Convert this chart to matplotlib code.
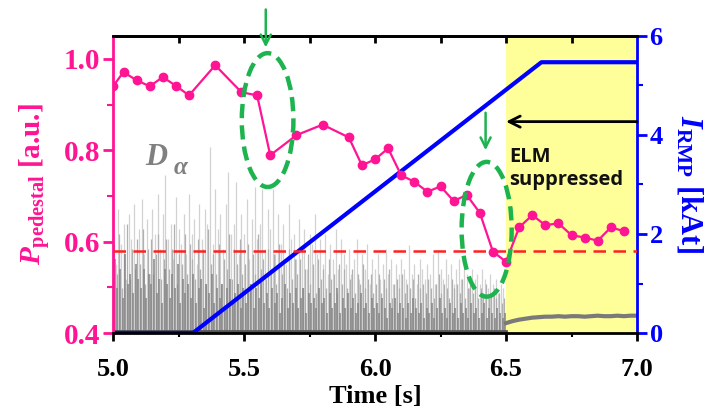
import matplotlib
matplotlib.use("Agg")
import matplotlib.pyplot as plt
from matplotlib.patches import Ellipse
from matplotlib.ticker import MultipleLocator

plt.rcParams['mathtext.fontset'] = 'custom'
plt.rcParams['mathtext.rm'] = 'Liberation Serif:bold'
plt.rcParams['mathtext.it'] = 'Liberation Serif:bold:italic'
plt.rcParams['mathtext.bf'] = 'Liberation Serif:bold'

# Pedestal pressure (normalised)
ped_t = [5.00, 5.04, 5.09, 5.14, 5.19, 5.24, 5.29, 5.39, 5.49, 5.55, 5.60,
         5.70, 5.80, 5.90, 5.95, 6.00, 6.05, 6.10, 6.15, 6.20, 6.25, 6.30,
         6.35, 6.40, 6.45, 6.50, 6.55, 6.60, 6.65, 6.70, 6.75, 6.80, 6.85,
         6.90, 6.95]
ped_v = [0.940, 0.971, 0.953, 0.940, 0.960, 0.941, 0.920, 0.986, 0.927, 0.920, 0.789,
         0.833, 0.856, 0.828, 0.767, 0.780, 0.804, 0.745, 0.731, 0.709, 0.721, 0.689,
         0.702, 0.663, 0.578, 0.556, 0.631, 0.658, 0.636, 0.640, 0.614, 0.609, 0.602,
         0.631, 0.623]
ped_threshold = 0.58

# RMP coil current waveform [kAt]
rmp_t = [5.00, 5.305, 6.635, 7.00]
rmp_i = [0.0, 0.0, 5.47, 5.47]

# D-alpha emission (arb., plotted on the kAt scale), ELMy phase, 10 ms bins
da_t0 = 5.0
da_dt = 0.01
da_peaks = [
    2.3, 1.4, 2.5, 1.8, 2.2, 1.1, 2.4, 1.9, 2.6, 1.5,
    2.1, 2.7, 1.6, 2.3, 1.2, 2.5, 2.0, 2.8, 1.7, 2.4,
    3.2, 1.9, 2.2, 1.5, 2.75, 2.1, 1.8, 2.4, 1.6, 2.8,
    2.0, 2.3, 1.4, 2.6, 1.9, 2.5, 2.2, 3.76, 1.8, 2.9,
    2.1, 2.4, 1.7, 2.6, 3.25, 2.0, 2.2, 3.05, 1.6, 2.4,
    2.0, 2.7, 1.5, 2.3, 2.95, 1.9, 2.2, 2.9, 1.7, 2.5,
    2.1, 2.9, 1.6, 2.4, 1.8, 2.2, 1.4, 2.6, 1.9, 2.0,
    1.5, 2.3, 1.7, 2.1, 1.3, 2.0, 1.8, 2.4, 1.6, 1.9,
    1.4, 2.0, 1.2, 1.8, 1.5, 2.1, 1.3, 1.9, 1.6, 1.4,
    1.7, 1.2, 1.5, 1.9, 1.1, 1.6, 1.3, 1.8, 1.0, 1.5,
    1.3, 1.6, 1.1, 1.4, 1.7, 1.2, 1.5, 1.0, 1.4, 1.2,
    1.5, 1.3, 1.1, 1.78, 1.2, 1.4, 1.0, 1.5, 1.3, 1.1,
    1.4, 1.2, 1.6, 1.0, 1.68, 1.3, 1.1, 1.5, 1.2, 1.4,
    1.0, 1.3, 1.5, 1.1, 1.4, 1.2, 0.9, 1.3, 1.1, 1.2,
    1.0, 1.3, 1.1, 0.9, 1.2, 1.0, 1.1, 0.8, 1.0, 0.9,
]
da_mid = [
    1.8, 1.2, 2.0, 0.9, 1.6, 2.2, 1.1, 1.7, 1.3, 1.9,
    1.4, 2.1, 1.0, 1.7, 1.9, 1.2, 1.6, 2.0, 1.1, 1.5,
    1.9, 1.3, 1.7, 2.2, 1.0, 1.6, 1.4, 2.0, 1.2, 1.8,
    1.5, 1.1, 1.9, 1.3, 1.7, 1.0, 2.1, 1.4, 1.6, 1.2,
    1.8, 1.0, 1.5, 1.3, 2.0, 1.1, 1.7, 1.4, 1.9, 1.2,
    1.4, 1.8, 1.0, 1.6, 1.2, 2.0, 1.3, 1.5, 1.1, 1.7,
    1.3, 1.6, 1.0, 1.8, 1.2, 1.4, 0.9, 1.7, 1.1, 1.5,
    1.2, 1.5, 0.9, 1.3, 1.6, 1.0, 1.4, 0.8, 1.5, 1.1,
    1.3, 0.9, 1.5, 1.1, 1.2, 0.8, 1.4, 1.0, 1.3, 0.9,
    1.1, 1.3, 0.8, 1.2, 1.0, 1.4, 0.9, 1.1, 1.2, 0.8,
    1.0, 1.2, 0.8, 1.1, 0.9, 1.3, 0.7, 1.0, 1.1, 0.9,
    1.2, 0.8, 1.0, 0.9, 1.1, 0.7, 1.2, 0.9, 1.0, 0.8,
    1.1, 0.9, 0.7, 1.0, 1.2, 0.8, 1.0, 0.9, 0.7, 1.1,
    0.9, 1.0, 0.8, 1.1, 0.7, 0.9, 1.0, 0.8, 0.9, 0.7,
    0.9, 0.8, 1.0, 0.7, 0.8, 0.9, 0.7, 0.8, 0.6, 0.7,
]
da_base = [
    1.5, 0.9, 1.3, 0.7, 1.6, 1.0, 1.2, 0.8, 1.4, 1.1,
    0.9, 1.3, 0.7, 1.2, 1.0, 1.5, 0.8, 1.1, 0.6, 1.3,
    1.0, 0.7, 1.2, 0.9, 1.4, 0.6, 1.1, 0.8, 1.0, 0.7,
    1.2, 0.6, 0.9, 1.1, 0.5, 1.0, 0.8, 1.2, 0.6, 0.9,
    0.7, 1.0, 0.5, 0.9, 1.1, 0.6, 0.8, 1.0, 0.5, 0.9,
    0.6, 0.8, 1.0, 0.5, 0.9, 0.7, 1.1, 0.6, 0.8, 0.5,
    0.9, 0.6, 0.8, 0.4, 0.7, 1.0, 0.5, 0.8, 0.6, 0.9,
    0.5, 0.7, 0.9, 0.4, 0.8, 0.6, 0.7, 0.5, 0.9, 0.6,
    0.7, 0.4, 0.8, 0.5, 0.6, 0.9, 0.4, 0.7, 0.5, 0.8,
    0.5, 0.7, 0.4, 0.6, 0.8, 0.5, 0.6, 0.4, 0.7, 0.5,
    0.6, 0.4, 0.7, 0.5, 0.3, 0.6, 0.5, 0.7, 0.4, 0.6,
    0.5, 0.3, 0.6, 0.4, 0.7, 0.5, 0.4, 0.6, 0.3, 0.5,
    0.4, 0.6, 0.3, 0.5, 0.7, 0.4, 0.5, 0.3, 0.6, 0.4,
    0.5, 0.3, 0.6, 0.4, 0.5, 0.3, 0.6, 0.4, 0.5, 0.3,
    0.4, 0.6, 0.3, 0.5, 0.4, 0.3, 0.5, 0.4, 0.3, 0.4,
]
# D-alpha after ELM suppression
da_sup_t = [6.500, 6.525, 6.550, 6.575, 6.600, 6.625, 6.650, 6.675, 6.700, 6.725,
            6.750, 6.775, 6.800, 6.825, 6.850, 6.875, 6.900, 6.925, 6.950, 6.975, 7.000]
da_sup_v = [0.20, 0.24, 0.27, 0.29, 0.31, 0.32, 0.33, 0.33, 0.34, 0.33,
            0.34, 0.34, 0.33, 0.34, 0.35, 0.34, 0.34, 0.35, 0.34, 0.35, 0.35]

suppressed_from = 6.5

PINK = '#ff1493'
BLUE = '#0000ff'
GREEN = '#1db34f'
SERIF = 'Liberation Serif'

fig = plt.figure(figsize=(7.14, 4.09), dpi=100)
ax = fig.add_axes([0.1583, 0.1858, 0.7339, 0.7262])
ax2 = ax.twinx()
ax.set_zorder(ax2.get_zorder() + 1)
ax.patch.set_visible(False)

# Right axis: RMP current and D-alpha
ax2.axvspan(suppressed_from, 7.0, color='#ffff99', zorder=0, lw=0)
n = len(da_peaks)
t_peak = [da_t0 + da_dt * k for k in range(n)]
t_mid = [da_t0 + da_dt * (k + 0.33) for k in range(n)]
t_base = [da_t0 + da_dt * (k + 0.66) for k in range(n)]
ax2.vlines(t_peak, 0, da_peaks, color='#d2d2d2', lw=0.9, zorder=1)
ax2.vlines(t_mid, 0, da_mid, color='#b0b0b0', lw=0.9, zorder=1.5)
ax2.vlines(t_base, 0, da_base, color='#858585', lw=1.1, zorder=2)
ax2.plot([da_t0, suppressed_from], [0.04, 0.04], color='#555555', lw=2, zorder=2)
ax2.plot(da_sup_t, da_sup_v, color='#7a7a7a', lw=3, zorder=2)
ax2.plot(rmp_t, rmp_i, color=BLUE, lw=3, zorder=3)
ax2.set_ylim(0, 6)
ax2.set_yticks([0, 2, 4, 6])
ax2.yaxis.set_minor_locator(MultipleLocator(1))

# Left axis: pedestal pressure
ax.plot(ped_t, ped_v, color=PINK, lw=1.6, marker='o', ms=6, zorder=4)
ax.axhline(ped_threshold, color='#ff2020', lw=1.8, ls=(0, (5, 3)), zorder=3)
ax.set_xlim(5.0, 7.0)
ax.set_ylim(0.4, 1.05)
ax.set_yticks([0.4, 0.6, 0.8, 1.0])
ax.yaxis.set_minor_locator(MultipleLocator(0.1))
ax.set_xticks([5.0, 5.5, 6.0, 6.5, 7.0])
ax.xaxis.set_minor_locator(MultipleLocator(0.25))

# Highlight the pressure drops
for cx, cy, w, h in [(5.590, 0.866, 0.197, 0.293), (6.426, 0.627, 0.191, 0.295)]:
    ax.add_patch(Ellipse((cx, cy), w, h, fill=False, ec=GREEN, lw=3.2,
                         ls=(0, (3.2, 1.6)), zorder=5))
ax.annotate('', xy=(5.583, 1.025), xytext=(5.583, 1.108),
            arrowprops=dict(arrowstyle='->', color=GREEN, lw=1.8,
                            mutation_scale=18, shrinkA=0, shrinkB=0),
            annotation_clip=False, zorder=6)
ax.annotate('', xy=(6.422, 0.80), xytext=(6.422, 0.882),
            arrowprops=dict(arrowstyle='->', color=GREEN, lw=1.8,
                            mutation_scale=18, shrinkA=0, shrinkB=0),
            annotation_clip=False, zorder=6)

ax2.annotate('', xy=(6.5, 4.27), xytext=(7.0, 4.27),
             arrowprops=dict(arrowstyle='->', color='black', lw=2,
                             mutation_scale=20, shrinkA=0, shrinkB=0))
ax2.text(6.513, 3.33, 'ELM\nsuppressed', family='Open Sans', weight='bold',
         fontsize=14.5, color='#111111', ha='left', va='center', linespacing=1.2)

ax.text(5.164, 0.785, 'D', family=SERIF, style='italic', weight='bold',
        fontsize=22, color='#808080', ha='center', va='center')
ax.text(5.257, 0.762, 'α', family=SERIF, style='italic', weight='bold',
        fontsize=18, color='#808080', ha='center', va='center')

# Axis styling
for s in ['top', 'bottom']:
    ax.spines[s].set_linewidth(2)
ax.spines['left'].set_color(PINK)
ax.spines['left'].set_linewidth(2)
ax2.spines['right'].set_color(BLUE)
ax2.spines['right'].set_linewidth(2)
for s in ['left', 'top', 'bottom']:
    ax2.spines[s].set_visible(False)
ax.spines['right'].set_visible(False)

ax.tick_params(axis='x', which='major', direction='out', length=6, width=2,
               labelsize=19, pad=12)
ax.tick_params(axis='x', which='minor', direction='out', length=3, width=1.5)
ax.tick_params(axis='y', which='major', direction='out', length=7, width=2,
               colors=PINK, labelsize=21, pad=2)
ax.tick_params(axis='y', which='minor', direction='out', length=4, width=1.5,
               colors=PINK)
ax2.tick_params(axis='y', which='major', direction='out', length=7, width=2,
                colors=BLUE, labelsize=19, pad=2)
ax2.tick_params(axis='y', which='minor', direction='out', length=4, width=1.5,
                colors=BLUE)
for lab in ax.get_xticklabels() + ax.get_yticklabels() + ax2.get_yticklabels():
    lab.set_family(SERIF)
    lab.set_weight('bold')
ax.set_yticklabels(['0.4', '0.6', '0.8', '1.0'])

top = ax.secondary_xaxis('top')
top.set_xticks([5.25, 5.5, 5.75, 6.0, 6.25, 6.5, 6.75])
top.tick_params(direction='in', length=5, width=2, labeltop=False)
top.spines['top'].set_linewidth(2)

ax.set_xlabel('Time [s]', family=SERIF, weight='bold', fontsize=19, labelpad=3)
ax.set_ylabel(r'$P_{\mathrm{pedestal}}$ [a.u.]', family=SERIF, weight='bold',
              fontsize=21, color=PINK, labelpad=8)
ax2.set_ylabel(r'$I_{\mathrm{RMP}}$ [kAt]', family=SERIF, weight='bold',
               fontsize=22, color=BLUE, rotation=270, labelpad=30)

fig.savefig('out.png', dpi=100)
